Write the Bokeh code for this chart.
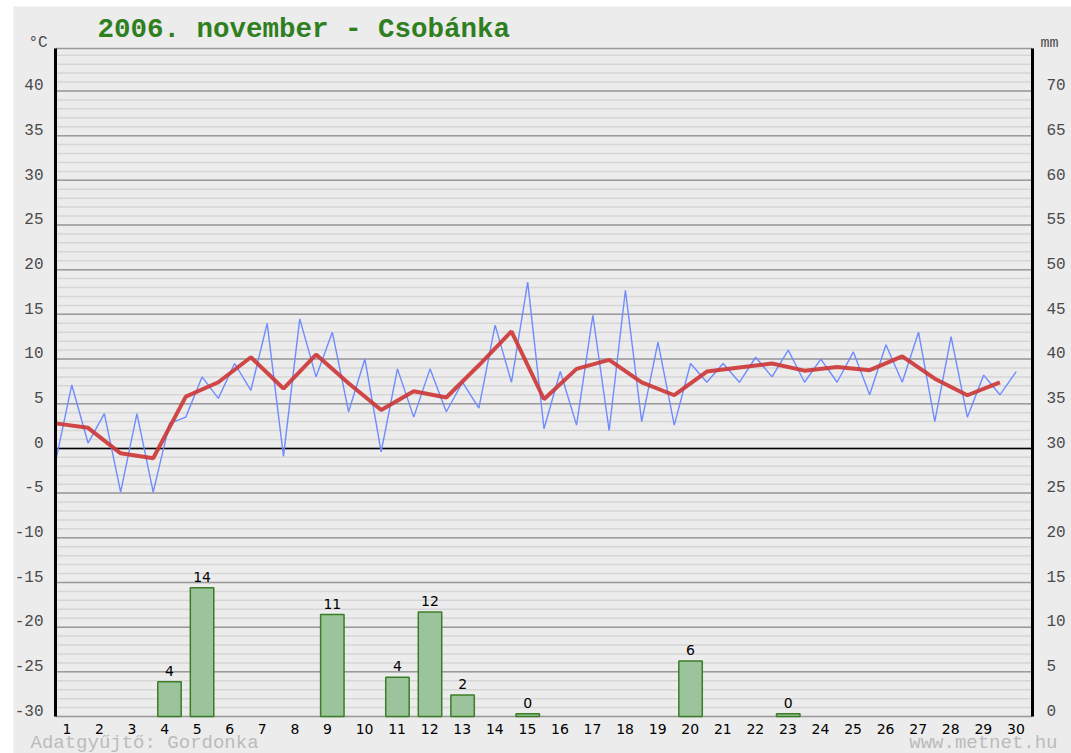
from bokeh.plotting import figure
from bokeh.models import (Range1d, LinearAxis, FixedTicker, Label, CustomJSTickFormatter)
from bokeh.core.properties import value
from bokeh.embed import file_html
from bokeh.resources import INLINE

# ---- data ----
title = "2006. november - Csobánka"
days = list(range(1, 31))
# temperature readings, two per day (°C)
temp_readings = [
    -1.5, 7.1, 0.6, 3.9, -4.9, 3.9, -4.9, 2.8, 3.5, 8.0,
    5.6, 9.5, 6.5, 14.0, -0.9, 14.5, 8.0, 13.0, 4.1, 10.0,
    -0.4, 8.9, 3.5, 8.9, 4.1, 7.4, 4.5, 13.8, 7.4, 18.6,
    2.2, 8.6, 2.6, 14.9, 2.0, 17.7, 3.0, 11.9, 2.6, 9.5,
    7.4, 9.5, 7.4, 10.2, 8.0, 11.0, 7.4, 10.0, 7.4, 10.8,
    6.0, 11.6, 7.4, 13.0, 3.0, 12.5, 3.5, 8.2, 6.0, 8.6,
]
# daily mean temperature (°C)
daily_mean = [
    2.8, 2.3, -0.55, -1.1, 5.8, 7.4, 10.2, 6.7, 10.5, 7.3,
    4.3, 6.4, 5.7, 9.3, 13.1, 5.5, 8.9, 9.9, 7.4, 5.95,
    8.6, 9.05, 9.5, 8.7, 9.1, 8.75, 10.3, 7.8, 5.95, 7.4,
]
# precipitation (mm)
rain_days = [4, 5, 9, 11, 12, 13, 15, 20, 23]
rain_mm = [3.9, 14.4, 11.4, 4.4, 11.7, 2.4, 0.3, 6.2, 0.3]
rain_labels = [str(round(v)) for v in rain_mm]

temp_ticks = list(range(-30, 41, 5))
mm_ticks = list(range(0, 71, 5))
temp_minor = list(range(-30, 45))

# ---- layout (pixels) ----
W, H = 1058, 747
PL, PR, PT, PB = 42, 1019, 42, 710          # plot area edges inside canvas
X0, X1 = 1, 31                               # day axis extent
T_MIN, T_MAX = -30, 44.75                    # temperature axis extent
MM_SHIFT = 30                                # mm = °C + 30
kx = (PR - PL) / (X1 - X0)
ky = (PB - PT) / (T_MAX - T_MIN)
x_range = Range1d(X0 - PL / kx, X1 + (W - PR) / kx)
y_range = Range1d(T_MIN - (H - PB) / ky, T_MAX + PT / ky)

BG = "#ececec"
TICK_FONT = "Liberation Mono"
TICK_SIZE = "16px"
TICK_COLOR = "#4a4a4a"

p = figure(width=W, height=H, x_range=x_range, y_range=y_range,
           x_axis_type=None, y_axis_type=None,
           min_border=0, min_border_left=0, min_border_right=0,
           min_border_top=0, min_border_bottom=0,
           output_backend="svg", toolbar_location=None,
           background_fill_color=BG, border_fill_color=BG)
p.margin = (6, 0, 0, 13)
p.outline_line_color = None
p.extra_y_ranges = {"mm": Range1d(y_range.start + MM_SHIFT, y_range.end + MM_SHIFT)}

# grid lines (one per degree, darker every 5)
p.segment(x0=X0, x1=X1, y0=temp_minor, y1=temp_minor, line_color="#d6d6d6", line_width=1.5)
major = list(range(-30, 45, 5))
p.segment(x0=X0, x1=X1, y0=major, y1=major, line_color="#9a9a9a", line_width=1.5)
p.segment(x0=X0, x1=X1, y0=T_MAX, y1=T_MAX, line_color="#9a9a9a", line_width=1.5)
p.segment(x0=X0, x1=X1, y0=0, y1=0, line_color="black", line_width=1.5)

# axes
LAB_OFF = 0.7
fmt_t = CustomJSTickFormatter(code="return Math.round(tick - 0.7).toString();")
ax_l = LinearAxis(fixed_location=X0, bounds=(T_MIN, T_MAX),
                  ticker=FixedTicker(ticks=[t + LAB_OFF for t in temp_ticks]),
                  formatter=fmt_t, axis_line_color="black", axis_line_width=3,
                  major_tick_line_color=None, minor_tick_line_color=None,
                  major_label_standoff=6, major_label_text_font=TICK_FONT,
                  major_label_text_font_size=TICK_SIZE, major_label_text_color=TICK_COLOR)
p.add_layout(ax_l, "left")

fmt_m = CustomJSTickFormatter(code="return Math.round(tick - 0.7).toString();")
ax_r = LinearAxis(fixed_location=X1, y_range_name="mm",
                  bounds=(T_MIN + MM_SHIFT, T_MAX + MM_SHIFT),
                  ticker=FixedTicker(ticks=[t + LAB_OFF for t in mm_ticks]),
                  formatter=fmt_m, axis_line_color="black", axis_line_width=3,
                  major_tick_line_color=None, minor_tick_line_color=None,
                  major_label_standoff=8, major_label_text_font=TICK_FONT,
                  major_label_text_font_size=TICK_SIZE, major_label_text_color=TICK_COLOR)
p.add_layout(ax_r, "right")

ax_b = LinearAxis(fixed_location=T_MIN, bounds=(X0, X1),
                  ticker=FixedTicker(ticks=[d + (0.35 if d < 10 else 0.49) for d in days]),
                  formatter=CustomJSTickFormatter(code="return Math.floor(tick).toString();"),
                  axis_line_color=None, major_tick_line_color=None, minor_tick_line_color=None,
                  major_label_standoff=1, major_label_text_font="DejaVu Sans",
                  major_label_text_font_size="14px", major_label_text_color="black")
p.add_layout(ax_b, "below")

# precipitation bars
bar_x = [d + 0.5 for d in rain_days]
p.vbar(x=bar_x, top=rain_mm, bottom=0, width=0.72, y_range_name="mm",
       fill_color="#9cc49c", line_color="#3b7d26", line_width=1.5)
p.text(x=bar_x, y=rain_mm, text=rain_labels, y_range_name="mm",
       y_offset=-6, text_align="center", text_baseline="bottom",
       text_font=value("DejaVu Sans"), text_font_size="14px", text_color="black")

# temperature lines
reading_x = [X0 + k / 2 for k in range(len(temp_readings))]
p.line(reading_x, temp_readings, line_color="#6f8cff", line_width=1.4)
p.line(days, daily_mean, line_color="#cc3535", line_width=4, line_alpha=0.9)

# texts around the plot area
p.add_layout(Label(x=X0, y=T_MAX, x_offset=42, y_offset=19, text=title,
                   text_font="Liberation Mono", text_font_style="bold",
                   text_font_size="27.5px", text_color="#2f7f1f",
                   text_align="left", text_baseline="alphabetic"))
p.add_layout(Label(x=X0, y=T_MAX, x_offset=-27, y_offset=6, text="°C",
                   text_font=TICK_FONT, text_font_size=TICK_SIZE,
                   text_color=TICK_COLOR, text_align="left", text_baseline="middle"))
p.add_layout(Label(x=X1, y=T_MAX, x_offset=8, y_offset=5, text="mm",
                   text_font=TICK_FONT, text_font_size="15px",
                   text_color=TICK_COLOR, text_align="left", text_baseline="middle"))
p.add_layout(Label(x=X0, y=T_MIN, x_offset=-25, y_offset=-26, text="Adatgyűjtő: Gordonka",
                   text_font="Liberation Mono", text_font_size="19px",
                   text_color="#bbbbbb", text_align="left", text_baseline="middle"))
p.add_layout(Label(x=X1, y=T_MIN, x_offset=25, y_offset=-26, text="www.metnet.hu",
                   text_font="Liberation Mono", text_font_size="19px",
                   text_color="#bbbbbb", text_align="right", text_baseline="middle"))

open("out.html", "w").write(file_html(p, INLINE))
